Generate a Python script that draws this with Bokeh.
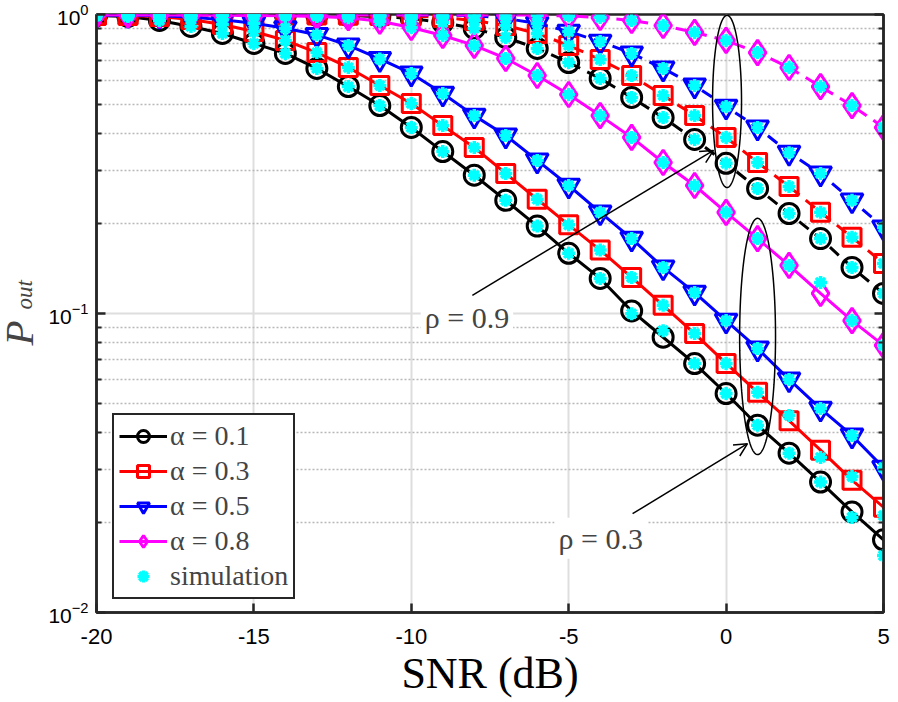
import numpy as np
from bokeh.plotting import figure
from bokeh.layouts import row
from bokeh.models import (Range1d, LogAxis, FixedTicker, Legend, LegendItem,
                          Label, Arrow, OpenHead, CustomJSTickFormatter)
from bokeh.embed import file_html
from bokeh.resources import INLINE

# ---------------- data ----------------
snr = [-20, -19, -18, -17, -16, -15, -14, -13, -12, -11, -10, -9, -8, -7, -6, -5,
       -4, -3, -2, -1, 0, 1, 2, 3, 4, 5]

# rho = 0.3 (solid)
a01_r03 = [0.992, 0.985, 0.955, 0.912, 0.864, 0.800, 0.741, 0.660, 0.574, 0.496, 0.419, 0.348, 0.290,
           0.239, 0.196, 0.159, 0.131, 0.102, 0.0833, 0.0680, 0.0540, 0.0423, 0.0341, 0.0273, 0.0217, 0.0175]
a03_r03 = [0.992, 0.992, 0.985, 0.962, 0.926, 0.877, 0.819, 0.746, 0.665, 0.579, 0.504, 0.425, 0.359,
           0.294, 0.241, 0.198, 0.163, 0.132, 0.1065, 0.0857, 0.0681, 0.0545, 0.0438, 0.0349, 0.0277, 0.0225]
a05_r03 = [0.995, 0.995, 0.990, 0.980, 0.960, 0.935, 0.900, 0.855, 0.788, 0.710, 0.635, 0.544, 0.459,
           0.394, 0.325, 0.268, 0.218, 0.178, 0.1426, 0.1175, 0.0947, 0.0764, 0.0602, 0.0481, 0.0391, 0.0305]
a08_r03 = [0.998, 0.998, 0.997, 0.996, 0.995, 0.992, 0.990, 0.985, 0.975, 0.950, 0.905, 0.851, 0.788,
           0.713, 0.625, 0.540, 0.459, 0.388, 0.320, 0.268, 0.218, 0.178, 0.1448, 0.1167, 0.0947, 0.0782]

# rho = 0.9 (dashed)
a01_r09 = [0.999, 0.999, 0.999, 0.998, 0.998, 0.997, 0.996, 0.994, 0.992, 0.985, 0.970, 0.940, 0.898,
           0.838, 0.770, 0.691, 0.611, 0.528, 0.452, 0.382, 0.318, 0.262, 0.216, 0.178, 0.1426, 0.1167]
a03_r09 = [0.999, 0.999, 0.999, 0.999, 0.998, 0.998, 0.997, 0.996, 0.995, 0.993, 0.988, 0.977, 0.955,
           0.919, 0.864, 0.788, 0.707, 0.625, 0.536, 0.459, 0.388, 0.320, 0.266, 0.218, 0.180, 0.147]
a05_r09 = [0.999, 0.999, 0.999, 0.999, 0.999, 0.999, 0.999, 0.998, 0.998, 0.998, 0.997, 0.996, 0.992,
           0.970, 0.933, 0.877, 0.812, 0.741, 0.660, 0.579, 0.492, 0.419, 0.345, 0.294, 0.239, 0.194]
a08_r09 = [0.999, 0.999, 0.999, 0.999, 0.999, 0.999, 0.999, 0.999, 0.998, 0.998, 0.998, 0.997, 0.997,
           0.996, 0.995, 0.989, 0.977, 0.955, 0.919, 0.871, 0.819, 0.746, 0.665, 0.574, 0.496, 0.419]

# simulation points
s01_r03 = [0.992, 0.985, 0.955, 0.912, 0.864, 0.800, 0.741, 0.660, 0.574, 0.496, 0.419, 0.348, 0.290,
           0.239, 0.196, 0.159, 0.131, 0.0998, 0.0876, 0.0680, 0.0540, 0.0423, 0.0341, 0.0273, 0.0208, 0.0155]
s03_r03 = [0.992, 0.992, 0.985, 0.962, 0.926, 0.877, 0.819, 0.746, 0.665, 0.579, 0.504, 0.425, 0.359,
           0.294, 0.241, 0.198, 0.163, 0.132, 0.1065, 0.0857, 0.0681, 0.0545, 0.0456, 0.0330, 0.0285, 0.0211]
s05_r03 = [0.995, 0.995, 0.990, 0.980, 0.960, 0.935, 0.900, 0.855, 0.788, 0.710, 0.635, 0.544, 0.459,
           0.394, 0.325, 0.268, 0.218, 0.178, 0.1426, 0.1175, 0.0947, 0.0764, 0.0602, 0.0481, 0.0391, 0.0305]
s08_r03 = [0.998, 0.998, 0.997, 0.996, 0.995, 0.992, 0.990, 0.985, 0.975, 0.950, 0.905, 0.851, 0.788,
           0.713, 0.625, 0.540, 0.459, 0.388, 0.320, 0.268, 0.218, 0.178, 0.1448, 0.127, 0.0947, 0.0782]
s01_r09 = [0.999, 0.999, 0.999, 0.998, 0.998, 0.997, 0.996, 0.994, 0.992, 0.985, 0.970, 0.940, 0.898,
           0.838, 0.770, 0.691, 0.611, 0.528, 0.452, 0.382, 0.318, 0.262, 0.216, 0.178, 0.1426, 0.1167]
s03_r09 = [0.999, 0.999, 0.999, 0.999, 0.998, 0.998, 0.997, 0.996, 0.995, 0.993, 0.988, 0.977, 0.955,
           0.919, 0.864, 0.788, 0.707, 0.625, 0.536, 0.459, 0.388, 0.320, 0.266, 0.218, 0.180, 0.147]
s05_r09 = [0.999, 0.999, 0.999, 0.999, 0.999, 0.999, 0.999, 0.998, 0.998, 0.998, 0.997, 0.996, 0.992,
           0.970, 0.933, 0.877, 0.812, 0.741, 0.660, 0.579, 0.492, 0.419, 0.345, 0.294, 0.239, 0.194]
s08_r09 = [0.999, 0.999, 0.999, 0.999, 0.999, 0.999, 0.999, 0.999, 0.998, 0.998, 0.998, 0.997, 0.997,
           0.996, 0.995, 0.989, 0.977, 0.955, 0.919, 0.871, 0.819, 0.746, 0.665, 0.574, 0.496, 0.419]

x_ticks = [-20, -15, -10, -5, 0, 5]
y_ticks = [0.01, 0.1, 1]
y_minor = [0.02, 0.03, 0.04, 0.05, 0.06, 0.07, 0.08, 0.09,
           0.2, 0.3, 0.4, 0.5, 0.6, 0.7, 0.8, 0.9]
labels = ["α = 0.1", "α = 0.3", "α = 0.5", "α = 0.8", "simulation"]

# ---------------- layout constants ----------------
H = 702
LW = 44          # width of the y-title strip
MW = 852         # main figure width
FT, FB = 14, 612  # frame top / bottom (page pixels)
AX = "#262626"

# y-title strip (P_out); its frame is aligned with the main frame, so use page pixels
lab = figure(width=LW, height=H, x_range=Range1d(0, LW), y_range=Range1d(FB, FT),
             output_backend="svg", toolbar_location=None, x_axis_location=None,
             y_axis_location=None, min_border=0)
lab.outline_line_color = None
lab.grid.visible = False
lab.add_layout(Label(x=18, y=345, text="P", text_font="Liberation Serif",
                     text_font_style="italic", text_font_size="41px", text_align="left",
                     text_baseline="middle", angle=np.pi / 2))
lab.add_layout(Label(x=24, y=309, text="out", text_font="Liberation Serif",
                     text_font_style="italic", text_font_size="23px", text_align="left",
                     text_baseline="middle", angle=np.pi / 2))

# ---------------- main figure ----------------
p = figure(width=MW, height=H, x_range=Range1d(-20, 5), y_range=Range1d(0.01, 1),
           y_axis_type="log", output_backend="svg", toolbar_location=None,
           min_border_left=96 - LW, min_border_right=LW + MW - 883,
           min_border_top=FT, min_border_bottom=H - FB)
p.outline_line_color = AX
p.outline_line_width = 2.5
p.background_fill_color = "white"
p.border_fill_color = "white"

xt = FixedTicker(ticks=x_ticks, minor_ticks=[])
yt = FixedTicker(ticks=y_ticks, minor_ticks=y_minor)
xa = p.below[0]
ya = p.left[0]
xa.ticker = xt
ya.ticker = yt
xa.formatter = CustomJSTickFormatter(code="return tick.toString()")
p.xgrid.ticker = xt
p.ygrid.ticker = yt

p.xgrid.grid_line_color = "#dedede"
p.xgrid.grid_line_width = 2
p.ygrid.grid_line_color = "#dedede"
p.ygrid.grid_line_width = 2
p.ygrid.minor_grid_line_color = "#b8b8b8"
p.ygrid.minor_grid_line_dash = "2 2"
p.ygrid.minor_grid_line_width = 1.5

ra = LogAxis(ticker=yt, formatter=CustomJSTickFormatter(code="return ''"),
             major_label_standoff=0)
p.add_layout(ra, "right")

for ax in (xa, ya, ra):
    ax.axis_line_width = 2.5
    ax.axis_line_color = AX
    ax.major_tick_in = 9
    ax.major_tick_out = 0
    ax.minor_tick_in = 5
    ax.minor_tick_out = 0
    ax.major_tick_line_width = 2.5
    ax.minor_tick_line_width = 2
    ax.major_tick_line_color = AX
    ax.minor_tick_line_color = AX
    ax.major_label_text_font = "Liberation Sans"
    ax.major_label_text_color = "black"

xa.major_label_text_font_size = "22px"
xa.major_label_standoff = 16
xa.axis_label = "SNR (dB)"
xa.axis_label_text_font = "Liberation Serif"
xa.axis_label_text_font_style = "normal"
xa.axis_label_text_font_size = "44px"
xa.axis_label_text_color = "black"
xa.axis_label_text_line_height = 0.9
xa.axis_label_standoff = 2
ya.major_label_text_font_size = "21px"
ya.major_label_standoff = 8

# ---------------- curves ----------------
series = [
    (a01_r03, a01_r09, "black", "circle", 20),
    (a03_r03, a03_r09, "red", "square", 18),
    (a05_r03, a05_r09, "blue", "inverted_triangle", 22),
    (a08_r03, a08_r09, "magenta", "diamond", 25),
]
items = []
for (y3, y9, col, mk, sz), lb in zip(series, labels[:4]):
    l3 = p.line(snr, y3, line_color=col, line_width=3)
    m3 = p.scatter(snr, y3, marker=mk, size=sz, line_color=col, fill_color=None, line_width=3)
    p.line(snr, y9, line_color=col, line_width=3, line_dash="12 8")
    p.scatter(snr, y9, marker=mk, size=sz, line_color=col, fill_color=None, line_width=3)
    items.append(LegendItem(label=lb, renderers=[l3, m3]))

sim_r = None
for ys in [s01_r03, s03_r03, s05_r03, s08_r03, s01_r09, s03_r09, s05_r09, s08_r09]:
    sim_r = p.scatter(snr, ys, marker="asterisk", size=13, line_color="#00ffff", line_width=3.5)
items.append(LegendItem(label=labels[4], renderers=[sim_r]))

# ---------------- annotations ----------------
t = np.linspace(0, 2 * np.pi, 240)
for cx, cy, a_db, b_dec in [(0.03, 0.512, 0.46, 0.288), (1.0, 0.0838, 0.57, 0.395)]:
    p.line(cx + a_db * np.cos(t), 10 ** (np.log10(cy) + b_dec * np.sin(t)),
           line_color="black", line_width=1.5)

p.add_layout(Arrow(x_start=-8.06, y_start=0.115, x_end=-0.40, y_end=0.351,
                   line_width=1.5, end=OpenHead(size=13, line_width=1.5)))
p.add_layout(Arrow(x_start=-2.97, y_start=0.0214, x_end=0.68, y_end=0.0367,
                   line_width=1.5, end=OpenHead(size=13, line_width=1.5)))

p.add_layout(Label(x=-9.7, y=0.097, text="ρ = 0.9", text_font="Liberation Serif",
                   text_font_size="30px", text_baseline="middle",
                   background_fill_color="white", padding=4))
p.add_layout(Label(x=-5.45, y=0.0177, text="ρ = 0.3", text_font="Liberation Serif",
                   text_font_size="30px", text_baseline="middle",
                   background_fill_color="white", padding=4))

legend = Legend(items=items, location=(16, 13), border_line_color=AX, border_line_width=2.5,
                border_line_alpha=1.0,
                background_fill_color="white", background_fill_alpha=1.0,
                label_text_font="Liberation Serif", label_text_font_size="28px",
                glyph_width=48, glyph_height=30, label_height=30, spacing=3, padding=5,
                margin=0, label_standoff=3)
p.add_layout(legend)

layout = row(lab, p, spacing=0)
open("out.html", "w").write(file_html(layout, INLINE))
